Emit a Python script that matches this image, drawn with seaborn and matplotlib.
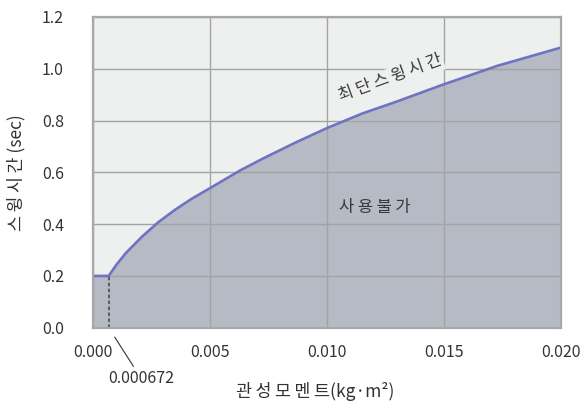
import matplotlib
matplotlib.use("Agg")
import matplotlib.pyplot as plt
import seaborn as sns
import pandas as pd

# Minimum swing time vs. moment of inertia
inertia = [0.0, 0.00067, 0.0010, 0.0014, 0.0021, 0.0028, 0.0035, 0.0042,
           0.0050, 0.0063, 0.0073, 0.0087, 0.0100, 0.0115, 0.0130, 0.0149,
           0.0173, 0.0200]
swing_time = [0.200, 0.200, 0.243, 0.288, 0.352, 0.408, 0.455, 0.497,
              0.539, 0.608, 0.655, 0.717, 0.771, 0.827, 0.874, 0.937,
              1.012, 1.082]
x_ticks = [0.000, 0.005, 0.010, 0.015, 0.020]
y_ticks = [0.0, 0.2, 0.4, 0.6, 0.8, 1.0, 1.2]
knee_label = "0.000672"
knee_x = 0.000672
knee_y = 0.20

sns.set_theme(style="white")
plt.rcParams["font.family"] = ["Noto Sans CJK KR", "DejaVu Sans"]

TS = "\u2009"  # thin space used as letter spacing for Hangul labels


def spaced(s):
    return TS.join(s)


df = pd.DataFrame({"inertia": inertia, "swing_time": swing_time})

fig = plt.figure(figsize=(5.82, 4.11), dpi=100)
ax = fig.add_axes([93 / 582, 1 - 327.7 / 411, (561 - 93) / 582, (327.7 - 17) / 411])
ax.set_facecolor("#eef0ef")

ax.fill_between(df["inertia"], df["swing_time"], 0, color="#b6bac4", zorder=1, lw=0)
sns.lineplot(data=df, x="inertia", y="swing_time", ax=ax, color="#6e73c2",
             lw=1.9, zorder=4)

ax.set_xlim(0, 0.020)
ax.set_ylim(0, 1.2)
ax.set_xticks(x_ticks)
ax.set_xticklabels([f"{v:.3f}" for v in x_ticks])
ax.set_yticks(y_ticks)
ax.set_yticklabels([f"{v:.1f}" for v in y_ticks])
ax.tick_params(axis="both", length=0, labelsize=11.5, colors="#333333")
ax.tick_params(axis="y", pad=21)
ax.tick_params(axis="x", pad=12)

ax.grid(True, color="#a3a3a3", lw=1, zorder=2)
ax.set_axisbelow(False)
for sp in ax.spines.values():
    sp.set_color("#a8a8a8")
    sp.set_linewidth(1.6)
    sp.set_zorder(5)

# knee marker: dashed drop line and leader to its label
ax.plot([knee_x, knee_x], [0, knee_y], ls=(0, (2, 1.3)), color="#555555",
        lw=1.3, zorder=3)
ax.annotate(knee_label, xy=(knee_x, 0), xytext=(0.00205, -0.195),
            textcoords="data", ha="center", va="center", fontsize=11.5,
            color="#333333", annotation_clip=False,
            arrowprops=dict(arrowstyle="-", color="#333333", lw=0.8,
                            shrinkA=0, shrinkB=8))

ax.text(0.01269, 0.962, spaced("최단스윙시간"), rotation=20, ha="center",
        va="center", fontsize=12, color="#3a3a3a", zorder=6,
        bbox=dict(boxstyle="square,pad=0.1", fc="#eef0ef", ec="none"))
ax.text(0.01205, 0.463, spaced("사용불가"), ha="center", va="center",
        fontsize=12, color="#3a3a3a", zorder=6)

ax.set_xlabel(spaced("관성모멘트") + "(kg·m²)", fontsize=12.5, color="#333333")
ax.xaxis.set_label_coords(0.474, -0.175)
ax.set_ylabel(spaced("스윙시간") + " (sec)", fontsize=12.5, color="#333333")
ax.yaxis.set_label_coords(-0.145, 0.5)

fig.savefig("out.png", dpi=100)
